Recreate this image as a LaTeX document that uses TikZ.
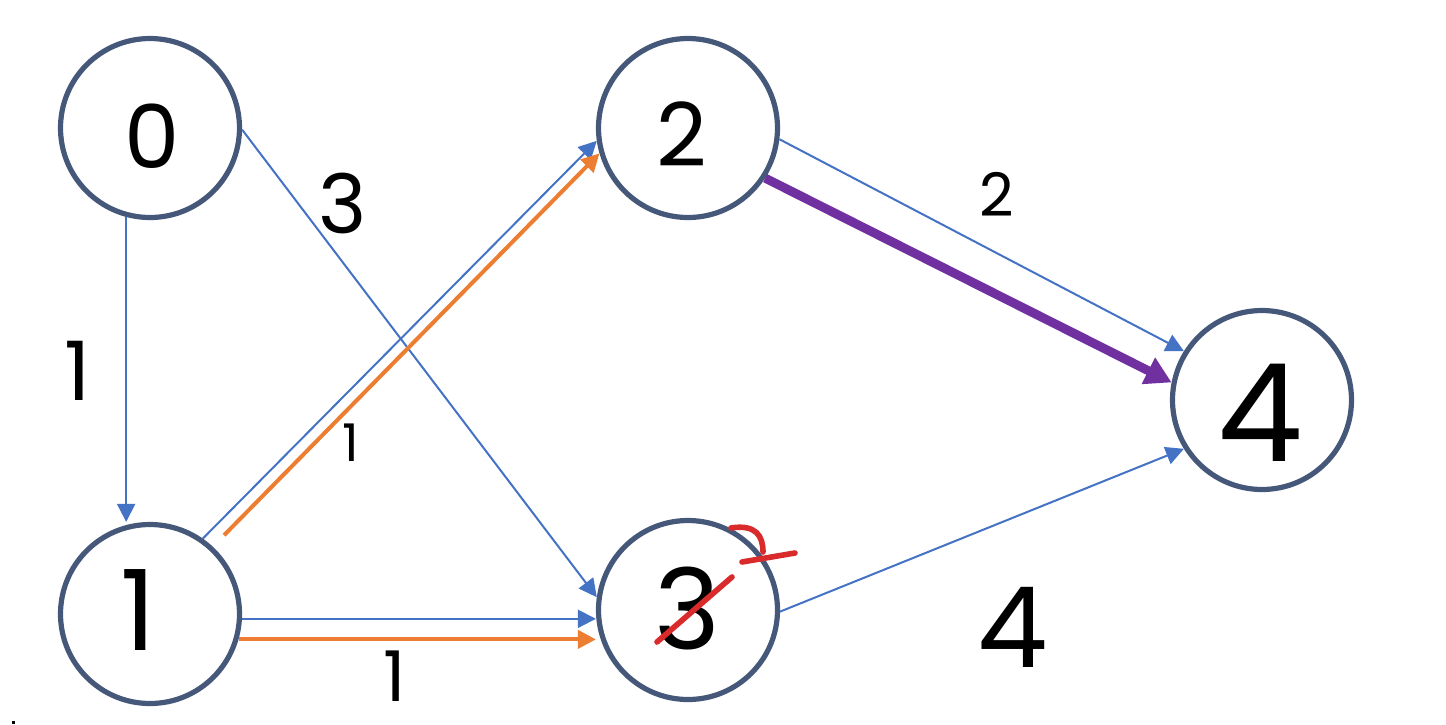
\documentclass[tikz,border=0pt]{standalone}
\usepackage{fontspec}
\setmainfont{Poppins}
\usetikzlibrary{arrows.meta}
\definecolor{ringc}{HTML}{46587A}
\definecolor{eblue}{HTML}{4472C4}
\definecolor{eorange}{HTML}{ED7D31}
\definecolor{epurple}{HTML}{7030A0}
\definecolor{ered}{HTML}{D92B2B}
\tikzset{
  ring/.style={circle, draw=ringc, line width=2.6pt, minimum size=89.5pt, inner sep=0pt, fill=white},
  dig/.style={inner sep=0pt, text=black},
  bedge/.style={draw=eblue, line width=1pt, -{Triangle[length=9pt,width=9pt]}},
  oedge/.style={draw=eorange, line width=2pt, -{Triangle[length=9pt,width=9pt]}},
  pedge/.style={draw=epurple, line width=4.5pt, -{Triangle[length=13pt,width=14pt]}},
  redmark/.style={draw=ered, line width=2.8pt, line cap=round, line join=round}
}
\begin{document}
\begin{tikzpicture}[x=0.5pt,y=-0.5pt]
\useasboundingbox (0,0) rectangle (1446,724);
\fill[white] (0,0) rectangle (1446,724);
% nodes
\node[ring] (n0) at (150,128) {};
\node[ring] (n1) at (150,614) {};
\node[ring] (n2) at (688,128) {};
\node[ring] (n3) at (688,610) {};
\node[ring] (n4) at (1262,400) {};
% node digits
\node[dig, font=\fontsize{44pt}{44pt}\selectfont] (t0) at (152,136) {0};
\node[dig, font=\fontsize{56pt}{56pt}\selectfont] (t1) at (138,610) {1};
\node[dig, font=\fontsize{44pt}{44pt}\selectfont] (t2) at (682,134) {2};
\node[dig, font=\fontsize{56pt}{56pt}\selectfont] (t3) at (687,608) {3};
\node[dig, font=\fontsize{68pt}{68pt}\selectfont] (t4) at (1260,413) {4};
% edges
\draw[bedge] (n0.255) -- (n0.255 |- n1.north);
\draw[bedge] (n0.359) -- (n3.172);
\draw[bedge] (n1.55) -- (n2.188);
\draw[oedge, shorten <=8pt] (n1.47) -- (n2.196);
\draw[bedge] (n1.357) -- (n1.357 -| n3.west);
\draw[oedge] (n1.344) -- (n1.344 -| n3.west);
\draw[bedge] (n2.353) -- (n4.148);
\draw[pedge] (n2.327) -- (n4.169);
\draw[bedge] (n3.359) -- (n4.212);
% edge weights
\node[dig, font=\fontsize{41pt}{41pt}\selectfont] (w01) at (78,371) {1};
\node[dig, font=\fontsize{41pt}{41pt}\selectfont] (w03) at (343,203) {3};
\node[dig, font=\fontsize{26pt}{26pt}\selectfont] (w12) at (351,443) {1};
\node[dig, font=\fontsize{35pt}{35pt}\selectfont] (w13) at (395,676) {1};
\node[dig, font=\fontsize{30pt}{30pt}\selectfont] (w24) at (997,194) {2};
\node[dig, font=\fontsize{56pt}{56pt}\selectfont] (w34) at (1013,627) {4};
% red correction on node 3
\draw[redmark] (657,642) -- (732,577);
\draw[redmark] (731,528) .. controls (756,524) and (763,536) .. (763,552);
\draw[redmark] (742,562) -- (795,553);
% small dot
\fill[black] (12,721) rectangle (15,724);
\end{tikzpicture}
\end{document}
